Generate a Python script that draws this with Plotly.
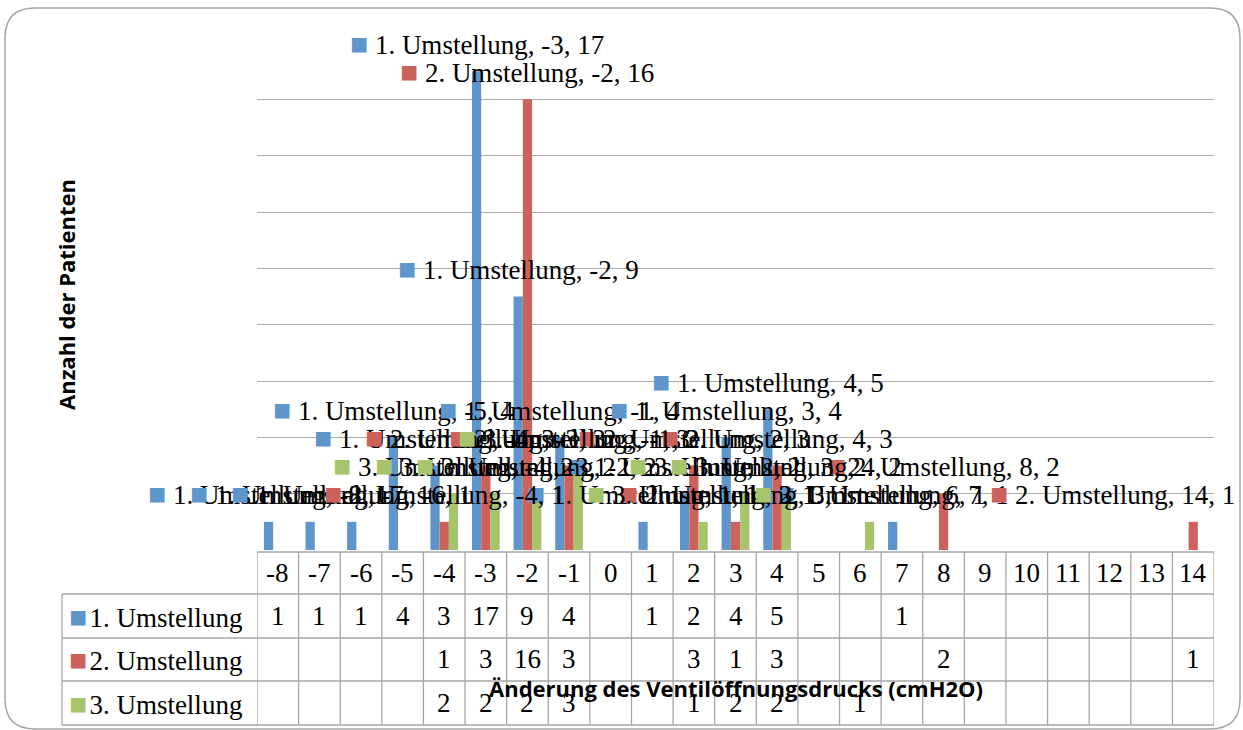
import plotly.graph_objects as go

# ---------------- data ----------------
categories = list(range(-8, 15))  # -8 .. 14
series_names = ["1. Umstellung", "2. Umstellung", "3. Umstellung"]
s1 = [1, 1, 1, 4, 3, 17, 9, 4, None, 1, 2, 4, 5, None, None, 1] + [None] * 7
s2 = [None] * 4 + [1, 3, 16, 3, None, None, 3, 1, 3, None, None, None, 2] + [None] * 5 + [1]
s3 = [None] * 4 + [2, 2, 2, 3, None, None, 1, 2, 2, None, 1] + [None] * 8
series_values = [s1, s2, s3]
colors = ["#5E95CB", "#CD625D", "#A6C46B"]

x_title = "Änderung des Ventilöffnungsdrucks (cmH2O)"
y_title = "Anzahl der Patienten"

# ---------------- layout geometry ----------------
W, H = 1243, 730
L, R, T, B = 257, 29, 43, 180
PW = W - L - R
PH = H - T - B
BARGAP = 1 / 3
SERIF = "Liberation Serif"
FS = 27
KEY = "font-size:30px"


def px2x(px):
    return (px - L) / PW


def py2y(py):
    return (H - B - py) / PH


fig = go.Figure()
for name, vals, col in zip(series_names, series_values, colors):
    fig.add_trace(go.Bar(x=categories, y=vals, name=name, marker_color=col,
                         marker_line_width=0, showlegend=False, hoverinfo="skip"))

annotations = []
shapes = []

# ---------------- data labels (Excel outside-end with legend key) ----------------
bw = (1 - BARGAP) / len(series_names)
for i, (name, vals, col) in enumerate(zip(series_names, series_values, colors)):
    off = (i - 1) * bw
    for cat, v in zip(categories, vals):
        if v is None:
            continue
        txt = (f"<span style='color:{col};{KEY}'>■</span>&nbsp;"
               f"{name}, {cat}, {v}")
        a = dict(x=cat + off, y=v, xref="x", yref="y", text=txt, showarrow=False,
                 xanchor="center", yanchor="middle", yshift=28,
                 font=dict(family=SERIF, size=FS, color="black"))
        if cat == categories[-1]:
            a.update(x=px2x(W - 6), xref="paper", xanchor="right")
        annotations.append(a)

# ---------------- data table ----------------
row_edges_px = [552, 594, 638, 681, 725]
row_y = [py2y((row_edges_px[k] + row_edges_px[k + 1]) / 2) for k in range(4)]
cell_font = dict(family=SERIF, size=FS, color="black")
for cat in categories:
    annotations.append(dict(x=cat, y=row_y[0], xref="x", yref="paper", text=str(cat),
                            xanchor="center", yanchor="middle",
                            showarrow=False, font=cell_font))
for r, (name, vals, col) in enumerate(zip(series_names, series_values, colors)):
    yr = row_y[r + 1]
    annotations.append(dict(x=px2x(67), y=yr, xref="paper", yref="paper",
                            xanchor="left", yanchor="middle",
                            text=f"<span style='color:{col};{KEY}'>■</span>&#8202;{name}",
                            showarrow=False, font=cell_font))
    for cat, v in zip(categories, vals):
        if v is None:
            continue
        annotations.append(dict(x=cat, y=yr, xref="x", yref="paper", text=str(v),
                                xanchor="center", yanchor="middle",
                                showarrow=False, font=cell_font))

line_style = dict(color="#A6A6A6", width=1.3)
x_lo, x_hi = categories[0] - 0.5, categories[-1] + 0.5
shapes.append(dict(type="line", xref="x", yref="paper", x0=x_lo, x1=x_hi,
                   y0=py2y(row_edges_px[0]), y1=py2y(row_edges_px[0]), line=line_style))
for py in row_edges_px[1:]:
    shapes.append(dict(type="line", xref="paper", yref="paper", x0=px2x(62), x1=1,
                       y0=py2y(py), y1=py2y(py), line=line_style))
for k in range(len(categories) + 1):
    xv = categories[0] - 0.5 + k
    shapes.append(dict(type="line", xref="x", yref="paper", x0=xv, x1=xv,
                       y0=py2y(row_edges_px[0]), y1=py2y(row_edges_px[-1]), line=line_style))
shapes.append(dict(type="line", xref="paper", yref="paper", x0=px2x(62), x1=px2x(62),
                   y0=py2y(row_edges_px[1]), y1=py2y(row_edges_px[-1]), line=line_style))

# ---------------- rounded chart border ----------------
bl, bt, br, bb, rad = 5, 8, 1240, 729, 30
pts = [
    ("M", bl + rad, bt), ("L", br - rad, bt), ("Q", br, bt, br, bt + rad),
    ("L", br, bb - rad), ("Q", br, bb, br - rad, bb), ("L", bl + rad, bb),
    ("Q", bl, bb, bl, bb - rad), ("L", bl, bt + rad), ("Q", bl, bt, bl + rad, bt),
]
path = ""
for p in pts:
    cmd = p[0]
    coords = p[1:]
    seg = []
    for j in range(0, len(coords), 2):
        seg.append(f"{px2x(coords[j]):.5f},{py2y(coords[j + 1]):.5f}")
    path += cmd + " ".join(seg) + " "
path += "Z"
shapes.append(dict(type="path", xref="paper", yref="paper", path=path,
                   line=dict(color="#A6A6A6", width=1.5)))

# ---------------- axis titles ----------------
annotations.append(dict(x=px2x(736), y=py2y(688), xref="paper", yref="paper",
                        xanchor="center", yanchor="middle", text=f"<b>{x_title}</b>",
                        showarrow=False, font=dict(family="Open Sans", size=22, color="black")))
annotations.append(dict(x=px2x(66), y=py2y(295), xref="paper", yref="paper",
                        xanchor="center", yanchor="middle", text=f"<b>{y_title}</b>",
                        showarrow=False, textangle=-90,
                        font=dict(family="Open Sans", size=22, color="black")))

fig.update_layout(
    width=W, height=H, autosize=False,
    margin=dict(l=L, r=R, t=T, b=B, pad=0),
    paper_bgcolor="white", plot_bgcolor="white",
    barmode="group", bargap=BARGAP, bargroupgap=0,
    annotations=annotations, shapes=shapes,
    xaxis=dict(range=[x_lo, x_hi], showticklabels=False, showgrid=False, zeroline=False,
               showline=False, ticks=""),
    yaxis=dict(range=[0, 18], dtick=2, showticklabels=False, showgrid=True,
               gridcolor="#ABABAB", gridwidth=1, zeroline=False, showline=False, ticks=""),
)

fig.write_html("out.html", config={"displayModeBar": False},
               post_script="document.body.style.margin='0';document.body.style.overflow='hidden';")
